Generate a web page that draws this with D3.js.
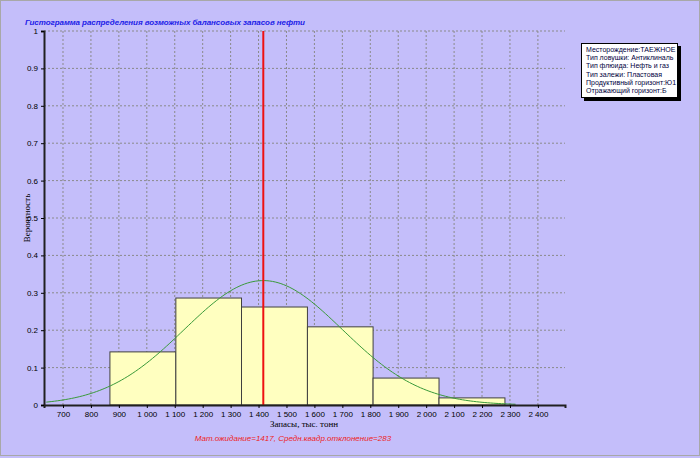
<!DOCTYPE html>
<html><head><meta charset="utf-8">
<script src="https://cdn.jsdelivr.net/npm/d3@7"></script>
<style>body{margin:0;background:#c4befa}svg{display:block}</style>
</head><body><svg width="700" height="458"></svg>
<script>
var binEdges = [868, 1104, 1339, 1575, 1810, 2046, 2282];
var binValues = [0.142, 0.286, 0.262, 0.209, 0.072, 0.019];
var xTicks = [700, 800, 900, 1000, 1100, 1200, 1300, 1400, 1500, 1600, 1700, 1800, 1900, 2000, 2100, 2200, 2300, 2400];
var yTicks = [0, 0.1, 0.2, 0.3, 0.4, 0.5, 0.6, 0.7, 0.8, 0.9, 1];
var mean = 1417, sd = 283;
var info = ['Месторождение:ТАЕЖНОЕ', 'Тип ловушки: Антиклиналь', 'Тип флюида: Нефть и газ',
  'Тип залежи: Пластовая', 'Продуктивный горизонт:Ю1', 'Отражающий горизонт:Б'];

var svg = d3.select('svg');
var x = d3.scaleLinear().domain([632, 2497]).range([44, 565]);
var y = d3.scaleLinear().domain([0, 1]).range([405, 31]);
var fmt = function(d) { return d3.format(',')(d).replace(',', '\u00a0'); };

svg.append('rect').attr('x', 0.5).attr('y', 0.5).attr('width', 699).attr('height', 455)
  .attr('fill', '#c4befa').attr('stroke', '#a8a8a8');

var g = svg.append('g');
g.selectAll('.vg').data(xTicks).enter().append('line')
  .attr('x1', d => x(d)).attr('x2', d => x(d)).attr('y1', y(1)).attr('y2', y(0))
  .attr('stroke', '#8a8a8a').attr('stroke-dasharray', '2,2');
g.selectAll('.hg').data(yTicks.slice(1)).enter().append('line')
  .attr('x1', x.range()[0]).attr('x2', x.range()[1]).attr('y1', d => y(d)).attr('y2', d => y(d))
  .attr('stroke', '#8a8a8a').attr('stroke-dasharray', '2,2');

g.selectAll('.bar').data(binValues).enter().append('rect')
  .attr('x', (d, i) => x(binEdges[i])).attr('width', (d, i) => x(binEdges[i + 1]) - x(binEdges[i]))
  .attr('y', d => y(d)).attr('height', d => y(0) - y(d))
  .attr('fill', '#ffffc0').attr('stroke', '#404040');

// fitted normal curve scaled to bin width
var bw = binEdges[1] - binEdges[0];
var pts = d3.range(640, 2330, 10).map(v => [v, bw / (sd * Math.sqrt(2 * Math.PI)) * Math.exp(-0.5 * Math.pow((v - mean) / sd, 2))]);
g.append('path').datum(pts).attr('fill', 'none').attr('stroke', '#3a9a3a').attr('stroke-width', 1)
  .attr('d', d3.line().x(d => x(d[0])).y(d => y(d[1])));

g.append('line').attr('x1', x(mean)).attr('x2', x(mean)).attr('y1', y(1)).attr('y2', y(0))
  .attr('stroke', '#ee1111').attr('stroke-width', 2);

var xa = svg.append('g').attr('transform', 'translate(0,' + y(0) + ')')
  .call(d3.axisBottom(x).tickValues(xTicks).tickFormat(fmt).tickSize(3));
var ya = svg.append('g').attr('transform', 'translate(' + x.range()[0] + ',0)')
  .call(d3.axisLeft(y).tickValues(yTicks).tickFormat(d3.format('')).tickSize(3));
[xa, ya].forEach(function(a) {
  a.select('.domain').attr('stroke', '#202020').attr('stroke-width', 2);
  a.selectAll('text').attr('font-family', 'Liberation Sans, Arial').attr('font-size', 8).attr('fill', '#000');
});

svg.append('text').attr('x', 25).attr('y', 25).text('Гистограмма распределения возможных балансовых запасов нефти')
  .attr('font-family', 'Liberation Sans, Arial').attr('font-size', 8).attr('font-weight', 'bold')
  .attr('font-style', 'italic').attr('fill', '#2020e8').attr('textLength', 280);
svg.append('text').attr('transform', 'translate(30,218) rotate(-90)').attr('text-anchor', 'middle')
  .text('Вероятность').attr('font-family', 'Liberation Serif, serif').attr('font-size', 9);
svg.append('text').attr('x', 304).attr('y', 427).attr('text-anchor', 'middle')
  .text('Запасы, тыс. тонн').attr('font-family', 'Liberation Serif, serif').attr('font-size', 9);
svg.append('text').attr('x', 293).attr('y', 441).attr('text-anchor', 'middle')
  .text('Мат.ожидание=1417,  Средн.квадр.отклонение=283')
  .attr('font-family', 'Liberation Sans, Arial').attr('font-size', 8).attr('font-style', 'italic').attr('fill', '#ee2222');

var lg = svg.append('g');
lg.append('rect').attr('x', 584).attr('y', 46).attr('width', 97).attr('height', 55).attr('fill', '#000');
lg.append('rect').attr('x', 581.5).attr('y', 43.5).attr('width', 96).attr('height', 54).attr('fill', '#fff').attr('stroke', '#000');
lg.selectAll('text').data(info).enter().append('text')
  .attr('x', 586).attr('y', (d, i) => 52 + i * 8.2).text(d => d)
  .attr('font-family', 'Liberation Sans, Arial').attr('font-size', 7).attr('fill', '#000040');
</script></body></html>
